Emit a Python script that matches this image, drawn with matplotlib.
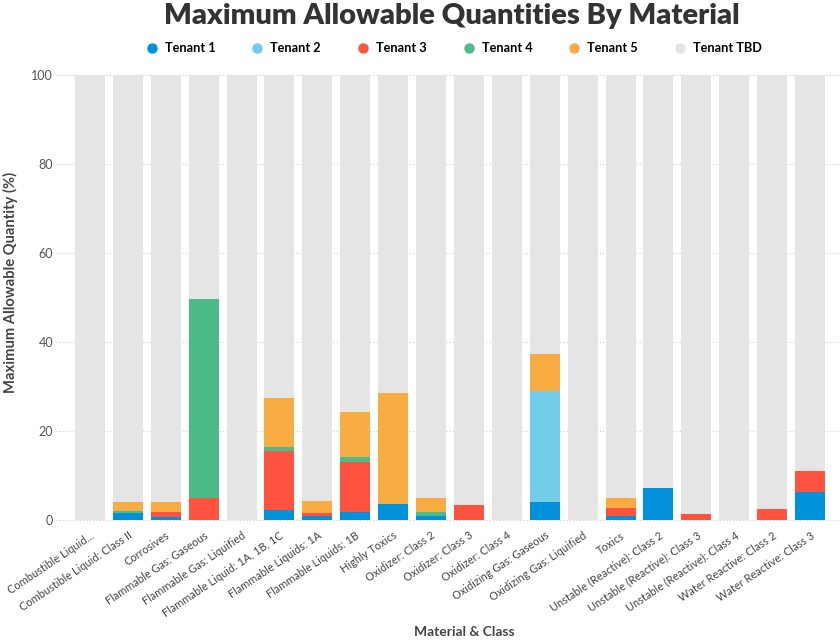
import matplotlib
matplotlib.use("Agg")
import matplotlib.pyplot as plt
from matplotlib.lines import Line2D
import numpy as np

plt.rcParams['font.family'] = ['Lato', 'DejaVu Sans']

categories = [
    "Combustible Liquid...", "Combustible Liquid: Class II", "Corrosives",
    "Flammable Gas: Gaseous", "Flammable Gas: Liquified",
    "Flammable Liquid: 1A, 1B, 1C", "Flammable Liquids: 1A", "Flammable Liquids: 1B",
    "Highly Toxics", "Oxidizer: Class 2", "Oxidizer: Class 3", "Oxidizer: Class 4",
    "Oxidizing Gas: Gaseous", "Oxidizing Gas: Liquified", "Toxics",
    "Unstable (Reactive): Class 2", "Unstable (Reactive): Class 3",
    "Unstable (Reactive): Class 4", "Water Reactive: Class 2", "Water Reactive: Class 3",
]
tenant1 = [0, 1.5, 0.7, 0, 0, 2.2, 1.0, 1.9, 3.7, 0.9, 0, 0, 4.0, 0, 0.9, 7.3, 0, 0, 0, 6.4]
tenant2 = [0, 0, 0, 0, 0, 0, 0, 0, 0, 0, 0, 0, 25.0, 0, 0, 0, 0, 0, 0, 0]
tenant3 = [0, 0, 1.2, 4.9, 0, 13.3, 0.6, 11.2, 0, 0, 3.3, 0, 0, 0, 1.8, 0, 1.35, 0, 2.5, 4.7]
tenant4 = [0, 0.5, 0, 44.8, 0, 1.0, 0, 1.0, 0, 0.9, 0, 0, 0, 0, 0, 0, 0, 0, 0, 0]
tenant5 = [0, 2.1, 2.2, 0, 0, 11.0, 2.7, 10.2, 24.8, 3.1, 0, 0, 8.3, 0, 2.3, 0, 0, 0, 0, 0]
series_names = ["Tenant 1", "Tenant 2", "Tenant 3", "Tenant 4", "Tenant 5", "Tenant TBD"]
colors = ["#0091DA", "#72CDE8", "#FF5340", "#4CBB88", "#F9AC41", "#E5E5E5"]
yticks = [0, 20, 40, 60, 80, 100]

stack = np.array([tenant1, tenant2, tenant3, tenant4, tenant5], dtype=float)
tbd = 100 - stack.sum(axis=0)
allseries = list(stack) + [tbd]

fig = plt.figure(figsize=(8.4, 6.44), dpi=100)
ax = fig.add_axes([0.0845, 0.1925, 0.9024, 0.691])

x = np.arange(len(categories))
bottom = np.zeros(len(categories))
for vals, col, name in zip(allseries, colors, series_names):
    ax.bar(x, vals, bottom=bottom, width=0.79, color=col, label=name, zorder=2, linewidth=0)
    bottom += vals

ax.set_xlim(-0.5, len(categories) - 0.5)
ax.set_ylim(0, 100)
ax.set_yticks(yticks)
ax.set_yticklabels([str(t) for t in yticks], fontsize=9, color="#555555")
for t in yticks:
    ax.axhline(t, xmin=-0.02, xmax=1.02, color="#cccccc", linestyle=(0, (1, 2)), linewidth=0.8, zorder=1, clip_on=False)
for s in ax.spines.values():
    s.set_visible(False)
ax.tick_params(axis='both', length=0)
ax.tick_params(axis='y', pad=13)
ax.tick_params(axis='x', pad=7)
ax.set_xticks(x)
ax.set_xticklabels(categories, rotation=34, ha='right', rotation_mode='anchor', fontsize=7.9, color="#444444")

ax.set_ylabel("Maximum Allowable Quantity (%)", fontsize=10.6, fontweight='bold', color="#444444")
ax.yaxis.set_label_coords(-0.07, 0.535)
fig.text(0.553, 0.018, "Material & Class", ha='center', va='center', fontsize=10, fontweight='bold', color="#444444")
fig.text(0.538, 0.975, "Maximum Allowable Quantities By Material", ha='center', va='center',
         fontsize=21, fontweight='heavy', color="#333333")

handles = [Line2D([0], [0], marker='o', linestyle='', markersize=6.5, markerfacecolor=c, markeredgecolor=c) for c in colors]
fig.legend(handles, series_names, loc='center', bbox_to_anchor=(0.54, 0.925), ncol=6, frameon=False,
           handlelength=1.0, handletextpad=0.5, columnspacing=2.8, prop={'weight': 'bold', 'size': 9.2})

fig.savefig("out.png", dpi=100, facecolor='white')
